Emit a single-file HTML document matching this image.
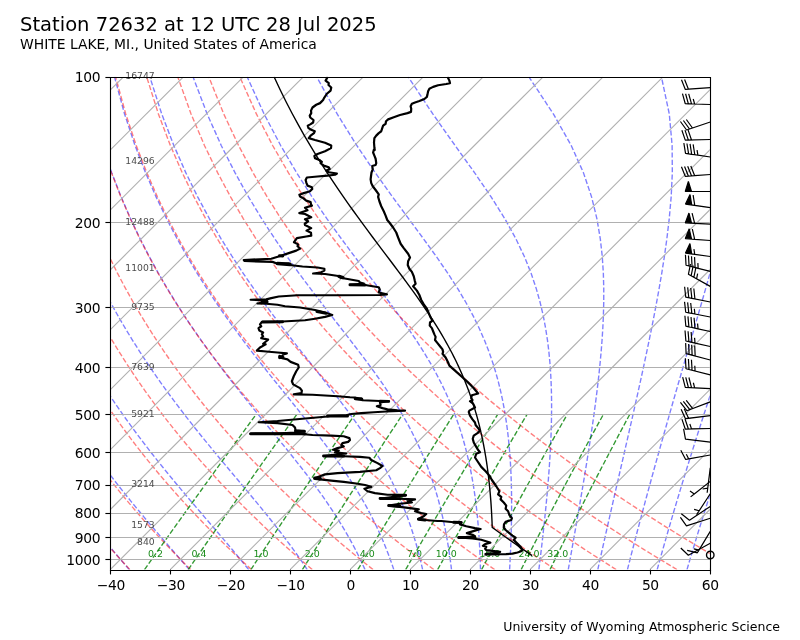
<!DOCTYPE html>
<html><head><meta charset="utf-8"><title>Station 72632 sounding</title>
<style>html,body{margin:0;padding:0;background:#fff}svg{will-change:transform}body{width:800px;height:640px;overflow:hidden}</style></head>
<body>
<svg width="800" height="640" viewBox="0 0 800 640" style="display:block;font-family:'DejaVu Sans','Liberation Sans',sans-serif">
<rect width="800" height="640" fill="#fff"/>
<defs><clipPath id="ax"><rect x="110.26" y="76.80" width="599.48" height="492.80"/></clipPath>
<clipPath id="bc"><rect x="649.79" y="76.80" width="119.90" height="492.80"/></clipPath></defs>
<g clip-path="url(#ax)" fill="none" stroke-width="1.389">
<g stroke="#0000ff" stroke-opacity="0.5" stroke-dasharray="5.14 2.22">
<path d="M129.34 569.60 L125.94 565.69 L122.50 561.71 L119.01 557.66 L115.48 553.52 L111.90 549.30 L108.28 544.99 L104.61 540.59 L100.90 536.10 L97.15 531.51 L93.35 526.82 L89.51 522.02 L85.62 517.10 L81.70 512.07 L77.73 506.92 L73.72 501.63 L69.66 496.21 L65.57 490.65 L61.43 484.93 L57.24 479.05 L53.02 473.00 L48.75 466.78 L44.45 460.36 L40.10 453.74 L35.71 446.90 L31.27 439.83 L26.80 432.52 L22.29 424.94 L17.73 417.08 L13.14 408.91 L8.51 400.41 L3.85 391.55 L-0.85 382.30 L-5.58 372.62 L-10.34 362.47 L-15.12 351.81 L-19.91 340.57 L-24.71 328.70 L-29.51 316.11 L-34.28 302.73 L-39.03 288.42 L-43.71 273.07 L-48.29 256.50 L-52.74 238.52 L-56.98 218.84 L-60.92 197.12 L-64.44 172.88 L-67.34 145.48 L-69.30 113.94 L-69.80 76.80"/>
<path d="M189.37 569.60 L185.96 565.69 L182.48 561.71 L178.93 557.66 L175.32 553.52 L171.64 549.30 L167.89 544.99 L164.08 540.59 L160.20 536.10 L156.26 531.51 L152.25 526.82 L148.17 522.02 L144.04 517.10 L139.84 512.07 L135.57 506.92 L131.25 501.63 L126.86 496.21 L122.41 490.65 L117.90 484.93 L113.33 479.05 L108.70 473.00 L104.01 466.78 L99.26 460.36 L94.45 453.74 L89.59 446.90 L84.66 439.83 L79.68 432.52 L74.64 424.94 L69.54 417.08 L64.39 408.91 L59.17 400.41 L53.91 391.55 L48.59 382.30 L43.21 372.62 L37.79 362.47 L32.32 351.81 L26.81 340.57 L21.26 328.70 L15.68 316.11 L10.08 302.73 L4.48 288.42 L-1.10 273.07 L-6.63 256.50 L-12.09 238.52 L-17.40 218.84 L-22.50 197.12 L-27.27 172.88 L-31.53 145.48 L-35.00 113.94 L-37.19 76.80"/>
<path d="M248.71 569.60 L245.55 565.69 L242.30 561.71 L238.96 557.66 L235.53 553.52 L232.00 549.30 L228.37 544.99 L224.65 540.59 L220.83 536.10 L216.91 531.51 L212.89 526.82 L208.78 522.02 L204.57 517.10 L200.26 512.07 L195.86 506.92 L191.36 501.63 L186.76 496.21 L182.07 490.65 L177.29 484.93 L172.42 479.05 L167.46 473.00 L162.41 466.78 L157.27 460.36 L152.04 453.74 L146.73 446.90 L141.33 439.83 L135.85 432.52 L130.29 424.94 L124.64 417.08 L118.91 408.91 L113.10 400.41 L107.21 391.55 L101.24 382.30 L95.19 372.62 L89.06 362.47 L82.86 351.81 L76.58 340.57 L70.24 328.70 L63.83 316.11 L57.36 302.73 L50.85 288.42 L44.31 273.07 L37.76 256.50 L31.23 238.52 L24.77 218.84 L18.44 197.12 L12.34 172.88 L6.63 145.48 L1.56 113.94 L-2.45 76.80"/>
<path d="M307.20 569.60 L304.62 565.69 L301.93 561.71 L299.14 557.66 L296.24 553.52 L293.22 549.30 L290.08 544.99 L286.82 540.59 L283.43 536.10 L279.92 531.51 L276.27 526.82 L272.48 522.02 L268.56 517.10 L264.49 512.07 L260.29 506.92 L255.93 501.63 L251.44 496.21 L246.80 490.65 L242.01 484.93 L237.08 479.05 L232.01 473.00 L226.79 466.78 L221.43 460.36 L215.93 453.74 L210.29 446.90 L204.52 439.83 L198.61 432.52 L192.57 424.94 L186.41 417.08 L180.12 408.91 L173.70 400.41 L167.17 391.55 L160.51 382.30 L153.73 372.62 L146.84 362.47 L139.84 351.81 L132.72 340.57 L125.49 328.70 L118.15 316.11 L110.71 302.73 L103.17 288.42 L95.55 273.07 L87.86 256.50 L80.12 238.52 L72.36 218.84 L64.64 197.12 L57.04 172.88 L49.69 145.48 L42.81 113.94 L36.77 76.80"/>
<path d="M365.01 569.60 L363.24 565.69 L361.39 561.71 L359.45 557.66 L357.40 553.52 L355.25 549.30 L352.99 544.99 L350.60 540.59 L348.10 536.10 L345.46 531.51 L342.68 526.82 L339.75 522.02 L336.67 517.10 L333.42 512.07 L330.00 506.92 L326.40 501.63 L322.61 496.21 L318.63 490.65 L314.44 484.93 L310.04 479.05 L305.43 473.00 L300.60 466.78 L295.54 460.36 L290.25 453.74 L284.74 446.90 L278.99 439.83 L273.01 432.52 L266.80 424.94 L260.36 417.08 L253.71 408.91 L246.83 400.41 L239.74 391.55 L232.45 382.30 L224.95 372.62 L217.26 362.47 L209.37 351.81 L201.30 340.57 L193.05 328.70 L184.62 316.11 L176.02 302.73 L167.25 288.42 L158.32 273.07 L149.24 256.50 L140.01 238.52 L130.67 218.84 L121.25 197.12 L111.82 172.88 L102.46 145.48 L93.35 113.94 L84.82 76.80"/>
<path d="M393.80 569.60 L392.48 565.69 L391.09 561.71 L389.62 557.66 L388.07 553.52 L386.43 549.30 L384.70 544.99 L382.86 540.59 L380.92 536.10 L378.85 531.51 L376.67 526.82 L374.34 522.02 L371.88 517.10 L369.26 512.07 L366.48 506.92 L363.52 501.63 L360.38 496.21 L357.04 490.65 L353.49 484.93 L349.72 479.05 L345.71 473.00 L341.46 466.78 L336.94 460.36 L332.16 453.74 L327.10 446.90 L321.74 439.83 L316.10 432.52 L310.15 424.94 L303.90 417.08 L297.34 408.91 L290.48 400.41 L283.33 391.55 L275.88 382.30 L268.15 372.62 L260.13 362.47 L251.85 351.81 L243.31 340.57 L234.52 328.70 L225.49 316.11 L216.22 302.73 L206.73 288.42 L197.01 273.07 L187.08 256.50 L176.96 238.52 L166.65 218.84 L156.18 197.12 L145.61 172.88 L135.01 145.48 L124.54 113.94 L114.46 76.80"/>
<path d="M422.61 569.60 L421.73 565.69 L420.79 561.71 L419.80 557.66 L418.75 553.52 L417.62 549.30 L416.43 544.99 L415.15 540.59 L413.79 536.10 L412.34 531.51 L410.79 526.82 L409.13 522.02 L407.35 517.10 L405.45 512.07 L403.41 506.92 L401.22 501.63 L398.87 496.21 L396.35 490.65 L393.63 484.93 L390.71 479.05 L387.57 473.00 L384.18 466.78 L380.54 460.36 L376.62 453.74 L372.40 446.90 L367.86 439.83 L362.98 432.52 L357.74 424.94 L352.12 417.08 L346.12 408.91 L339.71 400.41 L332.89 391.55 L325.66 382.30 L318.01 372.62 L309.95 362.47 L301.49 351.81 L292.63 340.57 L283.40 328.70 L273.81 316.11 L263.87 302.73 L253.60 288.42 L243.02 273.07 L232.13 256.50 L220.96 238.52 L209.51 218.84 L197.81 197.12 L185.89 172.88 L173.81 145.48 L161.71 113.94 L149.80 76.80"/>
<path d="M451.49 569.60 L451.02 565.69 L450.51 561.71 L449.97 557.66 L449.38 553.52 L448.74 549.30 L448.06 544.99 L447.33 540.59 L446.53 536.10 L445.67 531.51 L444.74 526.82 L443.74 522.02 L442.65 517.10 L441.47 512.07 L440.19 506.92 L438.80 501.63 L437.29 496.21 L435.65 490.65 L433.86 484.93 L431.91 479.05 L429.79 473.00 L427.47 466.78 L424.93 460.36 L422.15 453.74 L419.11 446.90 L415.78 439.83 L412.12 432.52 L408.12 424.94 L403.72 417.08 L398.90 408.91 L393.62 400.41 L387.85 391.55 L381.56 382.30 L374.70 372.62 L367.27 362.47 L359.24 351.81 L350.62 340.57 L341.39 328.70 L331.58 316.11 L321.20 302.73 L310.29 288.42 L298.86 273.07 L286.96 256.50 L274.61 238.52 L261.83 218.84 L248.65 197.12 L235.11 172.88 L221.24 145.48 L207.14 113.94 L192.99 76.80"/>
<path d="M480.48 569.60 L480.38 565.69 L480.25 561.71 L480.11 557.66 L479.94 553.52 L479.75 549.30 L479.53 544.99 L479.28 540.59 L478.99 536.10 L478.67 531.51 L478.30 526.82 L477.89 522.02 L477.43 517.10 L476.92 512.07 L476.34 506.92 L475.70 501.63 L474.98 496.21 L474.18 490.65 L473.29 484.93 L472.29 479.05 L471.17 473.00 L469.93 466.78 L468.53 460.36 L466.98 453.74 L465.23 446.90 L463.28 439.83 L461.09 432.52 L458.62 424.94 L455.85 417.08 L452.73 408.91 L449.21 400.41 L445.25 391.55 L440.77 382.30 L435.72 372.62 L430.03 362.47 L423.63 351.81 L416.44 340.57 L408.41 328.70 L399.48 316.11 L389.63 302.73 L378.85 288.42 L367.15 273.07 L354.58 256.50 L341.19 238.52 L327.04 218.84 L312.20 197.12 L296.72 172.88 L280.65 145.48 L264.08 113.94 L247.12 76.80"/>
<path d="M509.61 569.60 L509.82 565.69 L510.03 561.71 L510.23 557.66 L510.42 553.52 L510.61 549.30 L510.78 544.99 L510.95 540.59 L511.10 536.10 L511.23 531.51 L511.35 526.82 L511.45 522.02 L511.53 517.10 L511.58 512.07 L511.61 506.92 L511.60 501.63 L511.56 496.21 L511.48 490.65 L511.36 484.93 L511.18 479.05 L510.95 473.00 L510.65 466.78 L510.27 460.36 L509.80 453.74 L509.23 446.90 L508.55 439.83 L507.73 432.52 L506.76 424.94 L505.60 417.08 L504.23 408.91 L502.62 400.41 L500.72 391.55 L498.47 382.30 L495.81 372.62 L492.68 362.47 L488.98 351.81 L484.60 340.57 L479.41 328.70 L473.29 316.11 L466.07 302.73 L457.59 288.42 L447.70 273.07 L436.29 256.50 L423.30 238.52 L408.74 218.84 L392.71 197.12 L375.34 172.88 L356.78 145.48 L337.17 113.94 L316.68 76.80"/>
<path d="M538.88 569.60 L539.36 565.69 L539.84 561.71 L540.33 557.66 L540.82 553.52 L541.32 549.30 L541.82 544.99 L542.32 540.59 L542.83 536.10 L543.34 531.51 L543.85 526.82 L544.37 522.02 L544.88 517.10 L545.39 512.07 L545.91 506.92 L546.42 501.63 L546.92 496.21 L547.42 490.65 L547.91 484.93 L548.40 479.05 L548.86 473.00 L549.31 466.78 L549.74 460.36 L550.15 453.74 L550.52 446.90 L550.85 439.83 L551.14 432.52 L551.36 424.94 L551.52 417.08 L551.60 408.91 L551.57 400.41 L551.42 391.55 L551.11 382.30 L550.62 372.62 L549.90 362.47 L548.89 351.81 L547.52 340.57 L545.70 328.70 L543.32 316.11 L540.22 302.73 L536.21 288.42 L531.02 273.07 L524.34 256.50 L515.77 238.52 L504.89 218.84 L491.28 197.12 L474.68 172.88 L455.10 145.48 L432.79 113.94 L408.20 76.80"/>
<path d="M568.28 569.60 L568.98 565.69 L569.68 561.71 L570.40 557.66 L571.13 553.52 L571.88 549.30 L572.64 544.99 L573.42 540.59 L574.21 536.10 L575.01 531.51 L575.84 526.82 L576.68 522.02 L577.53 517.10 L578.40 512.07 L579.30 506.92 L580.20 501.63 L581.13 496.21 L582.07 490.65 L583.03 484.93 L584.02 479.05 L585.01 473.00 L586.03 466.78 L587.07 460.36 L588.12 453.74 L589.19 446.90 L590.27 439.83 L591.37 432.52 L592.48 424.94 L593.59 417.08 L594.72 408.91 L595.84 400.41 L596.95 391.55 L598.05 382.30 L599.13 372.62 L600.16 362.47 L601.13 351.81 L602.02 340.57 L602.78 328.70 L603.38 316.11 L603.73 302.73 L603.76 288.42 L603.34 273.07 L602.26 256.50 L600.26 238.52 L596.93 218.84 L591.64 197.12 L583.50 172.88 L571.23 145.48 L553.36 113.94 L528.85 76.80"/>
<path d="M597.81 569.60 L598.67 565.69 L599.55 561.71 L600.45 557.66 L601.37 553.52 L602.31 549.30 L603.27 544.99 L604.26 540.59 L605.27 536.10 L606.30 531.51 L607.36 526.82 L608.45 522.02 L609.57 517.10 L610.71 512.07 L611.88 506.92 L613.09 501.63 L614.33 496.21 L615.60 490.65 L616.91 484.93 L618.26 479.05 L619.65 473.00 L621.08 466.78 L622.55 460.36 L624.07 453.74 L625.63 446.90 L627.25 439.83 L628.92 432.52 L630.64 424.94 L632.43 417.08 L634.27 408.91 L636.17 400.41 L638.15 391.55 L640.19 382.30 L642.31 372.62 L644.49 362.47 L646.76 351.81 L649.10 340.57 L651.51 328.70 L654.00 316.11 L656.55 302.73 L659.15 288.42 L661.77 273.07 L664.38 256.50 L666.90 238.52 L669.22 218.84 L671.15 197.12 L672.33 172.88 L672.12 145.48 L669.29 113.94 L661.40 76.80"/>
<path d="M627.45 569.60 L628.44 565.69 L629.45 561.71 L630.48 557.66 L631.54 553.52 L632.63 549.30 L633.74 544.99 L634.89 540.59 L636.06 536.10 L637.26 531.51 L638.50 526.82 L639.77 522.02 L641.08 517.10 L642.42 512.07 L643.80 506.92 L645.22 501.63 L646.69 496.21 L648.20 490.65 L649.76 484.93 L651.37 479.05 L653.04 473.00 L654.76 466.78 L656.54 460.36 L658.39 453.74 L660.30 446.90 L662.28 439.83 L664.35 432.52 L666.49 424.94 L668.72 417.08 L671.05 408.91 L673.48 400.41 L676.02 391.55 L678.68 382.30 L681.46 372.62 L684.39 362.47 L687.47 351.81 L690.72 340.57 L694.14 328.70 L697.77 316.11 L701.62 302.73 L705.72 288.42 L710.08 273.07 L714.75 256.50 L719.75 238.52 L725.11 218.84 L730.87 197.12 L737.04 172.88 L743.59 145.48 L750.42 113.94 L757.11 76.80"/>
<path d="M657.17 569.60 L658.26 565.69 L659.36 561.71 L660.50 557.66 L661.66 553.52 L662.86 549.30 L664.08 544.99 L665.34 540.59 L666.63 536.10 L667.95 531.51 L669.31 526.82 L670.71 522.02 L672.16 517.10 L673.64 512.07 L675.17 506.92 L676.75 501.63 L678.37 496.21 L680.05 490.65 L681.79 484.93 L683.58 479.05 L685.44 473.00 L687.36 466.78 L689.35 460.36 L691.42 453.74 L693.57 446.90 L695.80 439.83 L698.13 432.52 L700.56 424.94 L703.09 417.08 L705.74 408.91 L708.51 400.41 L711.42 391.55 L714.47 382.30 L717.69 372.62 L721.08 362.47 L724.67 351.81 L728.48 340.57 L732.52 328.70 L736.84 316.11 L741.46 302.73 L746.43 288.42 L751.79 273.07 L757.60 256.50 L763.95 238.52 L770.91 218.84 L778.62 197.12 L787.24 172.88 L796.96 145.48 L808.08 113.94 L820.98 76.80"/>
<path d="M686.98 569.60 L688.12 565.69 L689.30 561.71 L690.50 557.66 L691.74 553.52 L693.00 549.30 L694.30 544.99 L695.63 540.59 L697.00 536.10 L698.41 531.51 L699.86 526.82 L701.35 522.02 L702.88 517.10 L704.46 512.07 L706.09 506.92 L707.77 501.63 L709.51 496.21 L711.30 490.65 L713.15 484.93 L715.07 479.05 L717.05 473.00 L719.11 466.78 L721.24 460.36 L723.45 453.74 L725.76 446.90 L728.16 439.83 L730.65 432.52 L733.26 424.94 L735.99 417.08 L738.84 408.91 L741.83 400.41 L744.97 391.55 L748.28 382.30 L751.76 372.62 L755.45 362.47 L759.35 351.81 L763.50 340.57 L767.92 328.70 L772.65 316.11 L777.73 302.73 L783.20 288.42 L789.14 273.07 L795.60 256.50 L802.69 238.52 L810.54 218.84 L819.28 197.12 L829.15 172.88 L840.44 145.48 L853.57 113.94 L869.21 76.80"/>
<path d="M716.84 569.60 L718.03 565.69 L719.25 561.71 L720.49 557.66 L721.77 553.52 L723.08 549.30 L724.43 544.99 L725.81 540.59 L727.23 536.10 L728.69 531.51 L730.19 526.82 L731.74 522.02 L733.33 517.10 L734.97 512.07 L736.66 506.92 L738.41 501.63 L740.21 496.21 L742.07 490.65 L743.99 484.93 L745.98 479.05 L748.04 473.00 L750.18 466.78 L752.40 460.36 L754.71 453.74 L757.11 446.90 L759.60 439.83 L762.21 432.52 L764.92 424.94 L767.77 417.08 L770.74 408.91 L773.86 400.41 L777.15 391.55 L780.60 382.30 L784.25 372.62 L788.10 362.47 L792.19 351.81 L796.54 340.57 L801.18 328.70 L806.15 316.11 L811.49 302.73 L817.26 288.42 L823.52 273.07 L830.35 256.50 L837.85 238.52 L846.17 218.84 L855.48 197.12 L866.01 172.88 L878.10 145.48 L892.23 113.94 L909.18 76.80"/>
</g>
<g stroke="#ff0000" stroke-opacity="0.5" stroke-dasharray="5.14 2.22">
<path d="M129.88 569.60 L126.26 565.69 L122.61 561.71 L118.93 557.66 L115.23 553.52 L111.49 549.30 L107.73 544.99 L103.94 540.59 L100.11 536.10 L96.25 531.51 L92.36 526.82 L88.44 522.02 L84.49 517.10 L80.50 512.07 L76.48 506.92 L72.42 501.63 L68.33 496.21 L64.20 490.65 L60.04 484.93 L55.84 479.05 L51.60 473.00 L47.33 466.78 L43.01 460.36 L38.66 453.74 L34.27 446.90 L29.84 439.83 L25.37 432.52 L20.87 424.94 L16.32 417.08 L11.74 408.91 L7.13 400.41 L2.48 391.55 L-2.21 382.30 L-6.92 372.62 L-11.66 362.47 L-16.42 351.81 L-21.19 340.57 L-25.97 328.70 L-30.75 316.11 L-35.50 302.73 L-40.22 288.42 L-44.88 273.07 L-49.44 256.50 L-53.85 238.52 L-58.06 218.84 L-61.98 197.12 L-65.46 172.88 L-68.32 145.48 L-70.24 113.94 L-70.70 76.80"/>
<path d="M190.67 569.60 L186.73 565.69 L182.75 561.71 L178.74 557.66 L174.70 553.52 L170.62 549.30 L166.51 544.99 L162.37 540.59 L158.19 536.10 L153.97 531.51 L149.71 526.82 L145.42 522.02 L141.08 517.10 L136.71 512.07 L132.29 506.92 L127.83 501.63 L123.33 496.21 L118.79 490.65 L114.20 484.93 L109.57 479.05 L104.89 473.00 L100.17 466.78 L95.39 460.36 L90.57 453.74 L85.70 446.90 L80.77 439.83 L75.80 432.52 L70.78 424.94 L65.70 417.08 L60.57 408.91 L55.39 400.41 L50.16 391.55 L44.88 382.30 L39.55 372.62 L34.18 362.47 L28.76 351.81 L23.30 340.57 L17.80 328.70 L12.28 316.11 L6.75 302.73 L1.21 288.42 L-4.30 273.07 L-9.77 256.50 L-15.14 238.52 L-20.38 218.84 L-25.39 197.12 L-30.07 172.88 L-34.22 145.48 L-37.58 113.94 L-39.65 76.80"/>
<path d="M251.46 569.60 L247.19 565.69 L242.89 561.71 L238.55 557.66 L234.17 553.52 L229.75 549.30 L225.30 544.99 L220.80 540.59 L216.26 536.10 L211.68 531.51 L207.06 526.82 L202.39 522.02 L197.67 517.10 L192.91 512.07 L188.10 506.92 L183.24 501.63 L178.34 496.21 L173.38 490.65 L168.37 484.93 L163.30 479.05 L158.18 473.00 L153.00 466.78 L147.77 460.36 L142.48 453.74 L137.12 446.90 L131.71 439.83 L126.23 432.52 L120.69 424.94 L115.08 417.08 L109.40 408.91 L103.66 400.41 L97.85 391.55 L91.97 382.30 L86.03 372.62 L80.01 362.47 L73.93 351.81 L67.78 340.57 L61.57 328.70 L55.31 316.11 L49.00 302.73 L42.65 288.42 L36.27 273.07 L29.90 256.50 L23.56 238.52 L17.30 218.84 L11.19 197.12 L5.33 172.88 L-0.13 145.48 L-4.91 113.94 L-8.60 76.80"/>
<path d="M312.25 569.60 L307.66 565.69 L303.03 561.71 L298.36 557.66 L293.64 553.52 L288.88 549.30 L284.08 544.99 L279.23 540.59 L274.34 536.10 L269.39 531.51 L264.40 526.82 L259.36 522.02 L254.26 517.10 L249.11 512.07 L243.91 506.92 L238.65 501.63 L233.34 496.21 L227.96 490.65 L222.53 484.93 L217.03 479.05 L211.47 473.00 L205.84 466.78 L200.15 460.36 L194.38 453.74 L188.55 446.90 L182.64 439.83 L176.66 432.52 L170.60 424.94 L164.46 417.08 L158.23 408.91 L151.93 400.41 L145.54 391.55 L139.06 382.30 L132.50 372.62 L125.85 362.47 L119.10 351.81 L112.27 340.57 L105.35 328.70 L98.34 316.11 L91.25 302.73 L84.08 288.42 L76.85 273.07 L69.57 256.50 L62.27 238.52 L54.99 218.84 L47.78 197.12 L40.72 172.88 L33.97 145.48 L27.75 113.94 L22.45 76.80"/>
<path d="M373.04 569.60 L368.13 565.69 L363.17 561.71 L358.16 557.66 L353.11 553.52 L348.01 549.30 L342.87 544.99 L337.67 540.59 L332.41 536.10 L327.11 531.51 L321.75 526.82 L316.33 522.02 L310.85 517.10 L305.32 512.07 L299.72 506.92 L294.06 501.63 L288.34 496.21 L282.55 490.65 L276.69 484.93 L270.76 479.05 L264.76 473.00 L258.68 466.78 L252.53 460.36 L246.29 453.74 L239.97 446.90 L233.57 439.83 L227.08 432.52 L220.51 424.94 L213.83 417.08 L207.07 408.91 L200.20 400.41 L193.23 391.55 L186.16 382.30 L178.97 372.62 L171.68 362.47 L164.28 351.81 L156.76 340.57 L149.12 328.70 L141.37 316.11 L133.50 302.73 L125.51 288.42 L117.43 273.07 L109.24 256.50 L100.98 238.52 L92.67 218.84 L84.36 197.12 L76.12 172.88 L68.07 145.48 L60.41 113.94 L53.50 76.80"/>
<path d="M433.83 569.60 L428.59 565.69 L423.31 561.71 L417.97 557.66 L412.59 553.52 L407.14 549.30 L401.65 544.99 L396.10 540.59 L390.49 536.10 L384.82 531.51 L379.09 526.82 L373.30 522.02 L367.45 517.10 L361.52 512.07 L355.53 506.92 L349.47 501.63 L343.34 496.21 L337.14 490.65 L330.85 484.93 L324.49 479.05 L318.05 473.00 L311.52 466.78 L304.90 460.36 L298.20 453.74 L291.40 446.90 L284.51 439.83 L277.51 432.52 L270.41 424.94 L263.21 417.08 L255.90 408.91 L248.47 400.41 L240.92 391.55 L233.25 382.30 L225.45 372.62 L217.52 362.47 L209.45 351.81 L201.24 340.57 L192.89 328.70 L184.39 316.11 L175.75 302.73 L166.95 288.42 L158.00 273.07 L148.91 256.50 L139.69 238.52 L130.36 218.84 L120.94 197.12 L111.51 172.88 L102.17 145.48 L93.07 113.94 L84.55 76.80"/>
<path d="M494.62 569.60 L489.06 565.69 L483.45 561.71 L477.78 557.66 L472.06 553.52 L466.27 549.30 L460.43 544.99 L454.53 540.59 L448.57 536.10 L442.53 531.51 L436.44 526.82 L430.27 522.02 L424.04 517.10 L417.73 512.07 L411.34 506.92 L404.88 501.63 L398.34 496.21 L391.72 490.65 L385.02 484.93 L378.22 479.05 L371.34 473.00 L364.36 466.78 L357.28 460.36 L350.11 453.74 L342.83 446.90 L335.44 439.83 L327.94 432.52 L320.32 424.94 L312.59 417.08 L304.73 408.91 L296.73 400.41 L288.61 391.55 L280.34 382.30 L271.92 372.62 L263.35 362.47 L254.62 351.81 L245.73 340.57 L236.66 328.70 L227.42 316.11 L218.00 302.73 L208.38 288.42 L198.58 273.07 L188.58 256.50 L178.40 238.52 L168.04 218.84 L157.53 197.12 L146.91 172.88 L136.26 145.48 L125.74 113.94 L115.60 76.80"/>
<path d="M555.41 569.60 L549.53 565.69 L543.59 561.71 L537.59 557.66 L531.53 553.52 L525.41 549.30 L519.22 544.99 L512.96 540.59 L506.64 536.10 L500.25 531.51 L493.78 526.82 L487.24 522.02 L480.63 517.10 L473.93 512.07 L467.16 506.92 L460.29 501.63 L453.35 496.21 L446.31 490.65 L439.18 484.93 L431.95 479.05 L424.63 473.00 L417.20 466.78 L409.66 460.36 L402.01 453.74 L394.25 446.90 L386.37 439.83 L378.37 432.52 L370.23 424.94 L361.96 417.08 L353.56 408.91 L345.00 400.41 L336.29 391.55 L327.43 382.30 L318.39 372.62 L309.19 362.47 L299.80 351.81 L290.22 340.57 L280.44 328.70 L270.45 316.11 L260.25 302.73 L249.82 288.42 L239.15 273.07 L228.25 256.50 L217.11 238.52 L205.72 218.84 L194.11 197.12 L182.31 172.88 L170.36 145.48 L158.40 113.94 L146.65 76.80"/>
<path d="M616.20 569.60 L609.99 565.69 L603.73 561.71 L597.40 557.66 L591.00 553.52 L584.54 549.30 L578.00 544.99 L571.40 540.59 L564.72 536.10 L557.96 531.51 L551.13 526.82 L544.21 522.02 L537.22 517.10 L530.14 512.07 L522.97 506.92 L515.70 501.63 L508.35 496.21 L500.89 490.65 L493.34 484.93 L485.68 479.05 L477.91 473.00 L470.03 466.78 L462.04 460.36 L453.92 453.74 L445.68 446.90 L437.31 439.83 L428.80 432.52 L420.14 424.94 L411.34 417.08 L402.39 408.91 L393.27 400.41 L383.98 391.55 L374.52 382.30 L364.87 372.62 L355.02 362.47 L344.97 351.81 L334.70 340.57 L324.21 328.70 L313.48 316.11 L302.49 302.73 L291.25 288.42 L279.73 273.07 L267.92 256.50 L255.82 238.52 L243.41 218.84 L230.70 197.12 L217.70 172.88 L204.46 145.48 L191.06 113.94 L177.70 76.80"/>
<path d="M676.99 569.60 L670.46 565.69 L663.87 561.71 L657.20 557.66 L650.47 553.52 L643.67 549.30 L636.79 544.99 L629.83 540.59 L622.79 536.10 L615.68 531.51 L608.47 526.82 L601.19 522.02 L593.81 517.10 L586.34 512.07 L578.78 506.92 L571.11 501.63 L563.35 496.21 L555.48 490.65 L547.50 484.93 L539.41 479.05 L531.20 473.00 L522.87 466.78 L514.42 460.36 L505.83 453.74 L497.11 446.90 L488.24 439.83 L479.22 432.52 L470.05 424.94 L460.72 417.08 L451.22 408.91 L441.54 400.41 L431.67 391.55 L421.61 382.30 L411.34 372.62 L400.86 362.47 L390.14 351.81 L379.19 340.57 L367.98 328.70 L356.51 316.11 L344.74 302.73 L332.68 288.42 L320.30 273.07 L307.59 256.50 L294.52 238.52 L281.09 218.84 L267.28 197.12 L253.10 172.88 L238.56 145.48 L223.72 113.94 L208.75 76.80"/>
<path d="M737.78 569.60 L730.93 565.69 L724.01 561.71 L717.01 557.66 L709.94 553.52 L702.80 549.30 L695.57 544.99 L688.26 540.59 L680.87 536.10 L673.39 531.51 L665.82 526.82 L658.16 522.02 L650.40 517.10 L642.54 512.07 L634.59 506.92 L626.52 501.63 L618.35 496.21 L610.07 490.65 L601.66 484.93 L593.14 479.05 L584.49 473.00 L575.71 466.78 L566.80 460.36 L557.74 453.74 L548.53 446.90 L539.17 439.83 L529.65 432.52 L519.96 424.94 L510.10 417.08 L500.05 408.91 L489.80 400.41 L479.36 391.55 L468.70 382.30 L457.81 372.62 L446.69 362.47 L435.32 351.81 L423.68 340.57 L411.75 328.70 L399.53 316.11 L386.99 302.73 L374.12 288.42 L360.88 273.07 L347.26 256.50 L333.23 238.52 L318.78 218.84 L303.87 197.12 L288.49 172.88 L272.65 145.48 L256.39 113.94 L239.80 76.80"/>
</g>
<g stroke="#008000" stroke-opacity="0.8" stroke-dasharray="5.14 2.22">
<path d="M144.48 569.60 L147.19 565.78 L149.95 561.89 L152.77 557.92 L155.64 553.88 L158.57 549.76 L161.56 545.56 L164.62 541.27 L167.74 536.89 L170.93 532.42 L174.20 527.85 L177.54 523.18 L180.96 518.40 L184.46 513.51 L188.05 508.50 L191.73 503.37 L195.50 498.12 L199.38 492.72 L203.36 487.19 L207.46 481.50 L211.67 475.66 L216.01 469.65 L220.48 463.46 L225.09 457.08 L229.86 450.50 L234.78 443.71 L239.87 436.69 L245.15 429.43 L250.62 421.91 L256.30 414.11"/>
<path d="M188.20 569.60 L190.83 565.78 L193.51 561.89 L196.25 557.92 L199.04 553.88 L201.89 549.76 L204.79 545.56 L207.76 541.27 L210.80 536.89 L213.90 532.42 L217.07 527.85 L220.32 523.18 L223.64 518.40 L227.05 513.51 L230.53 508.50 L234.11 503.37 L237.79 498.12 L241.56 492.72 L245.43 487.19 L249.41 481.50 L253.52 475.66 L257.74 469.65 L262.09 463.46 L266.58 457.08 L271.22 450.50 L276.01 443.71 L280.97 436.69 L286.11 429.43 L291.45 421.91 L296.99 414.11"/>
<path d="M250.86 569.60 L253.38 565.78 L255.94 561.89 L258.55 557.92 L261.22 553.88 L263.94 549.76 L266.72 545.56 L269.56 541.27 L272.46 536.89 L275.43 532.42 L278.47 527.85 L281.57 523.18 L284.76 518.40 L288.02 513.51 L291.36 508.50 L294.78 503.37 L298.30 498.12 L301.92 492.72 L305.63 487.19 L309.45 481.50 L313.38 475.66 L317.43 469.65 L321.61 463.46 L325.92 457.08 L330.37 450.50 L334.97 443.71 L339.73 436.69 L344.67 429.43 L349.80 421.91 L355.12 414.11"/>
<path d="M302.37 569.60 L304.78 565.78 L307.25 561.89 L309.75 557.92 L312.32 553.88 L314.93 549.76 L317.60 545.56 L320.33 541.27 L323.12 536.89 L325.97 532.42 L328.89 527.85 L331.88 523.18 L334.94 518.40 L338.07 513.51 L341.29 508.50 L344.59 503.37 L347.97 498.12 L351.45 492.72 L355.03 487.19 L358.71 481.50 L362.49 475.66 L366.40 469.65 L370.42 463.46 L374.58 457.08 L378.87 450.50 L383.31 443.71 L387.90 436.69 L392.67 429.43 L397.61 421.91 L402.75 414.11"/>
<path d="M357.80 569.60 L360.10 565.78 L362.45 561.89 L364.84 557.92 L367.28 553.88 L369.78 549.76 L372.33 545.56 L374.93 541.27 L377.59 536.89 L380.32 532.42 L383.11 527.85 L385.96 523.18 L388.88 518.40 L391.88 513.51 L394.96 508.50 L398.11 503.37 L401.35 498.12 L404.68 492.72 L408.10 487.19 L411.62 481.50 L415.25 475.66 L418.99 469.65 L422.84 463.46 L426.82 457.08 L430.94 450.50 L435.20 443.71 L439.61 436.69 L444.18 429.43 L448.92 421.91 L453.86 414.11"/>
<path d="M405.63 569.60 L407.83 565.78 L410.08 561.89 L412.37 557.92 L414.70 553.88 L417.09 549.76 L419.53 545.56 L422.02 541.27 L424.58 536.89 L427.18 532.42 L429.86 527.85 L432.59 523.18 L435.39 518.40 L438.27 513.51 L441.22 508.50 L444.24 503.37 L447.35 498.12 L450.54 492.72 L453.83 487.19 L457.21 481.50 L460.70 475.66 L464.29 469.65 L467.99 463.46 L471.82 457.08 L475.78 450.50 L479.87 443.71 L484.11 436.69 L488.52 429.43 L493.09 421.91 L497.84 414.11"/>
<path d="M437.62 569.60 L439.75 565.78 L441.93 561.89 L444.15 557.92 L446.41 553.88 L448.72 549.76 L451.09 545.56 L453.51 541.27 L455.98 536.89 L458.51 532.42 L461.10 527.85 L463.76 523.18 L466.48 518.40 L469.26 513.51 L472.13 508.50 L475.06 503.37 L478.08 498.12 L481.19 492.72 L484.38 487.19 L487.66 481.50 L491.05 475.66 L494.54 469.65 L498.14 463.46 L501.86 457.08 L505.71 450.50 L509.70 443.71 L513.83 436.69 L518.11 429.43 L522.56 421.91 L527.19 414.11"/>
<path d="M481.59 569.60 L483.62 565.78 L485.69 561.89 L487.81 557.92 L489.98 553.88 L492.19 549.76 L494.45 545.56 L496.76 541.27 L499.12 536.89 L501.54 532.42 L504.02 527.85 L506.56 523.18 L509.16 518.40 L511.83 513.51 L514.57 508.50 L517.38 503.37 L520.28 498.12 L523.25 492.72 L526.31 487.19 L529.46 481.50 L532.71 475.66 L536.06 469.65 L539.52 463.46 L543.09 457.08 L546.79 450.50 L550.62 443.71 L554.58 436.69 L558.70 429.43 L562.98 421.91 L567.43 414.11"/>
<path d="M521.13 569.60 L523.07 565.78 L525.05 561.89 L527.08 557.92 L529.15 553.88 L531.26 549.76 L533.42 545.56 L535.64 541.27 L537.90 536.89 L540.22 532.42 L542.59 527.85 L545.03 523.18 L547.52 518.40 L550.08 513.51 L552.71 508.50 L555.41 503.37 L558.18 498.12 L561.04 492.72 L563.98 487.19 L567.00 481.50 L570.12 475.66 L573.34 469.65 L576.67 463.46 L580.11 457.08 L583.66 450.50 L587.35 443.71 L591.17 436.69 L595.13 429.43 L599.26 421.91 L603.55 414.11"/>
<path d="M550.02 569.60 L551.90 565.78 L553.81 561.89 L555.77 557.92 L557.77 553.88 L559.81 549.76 L561.90 545.56 L564.04 541.27 L566.23 536.89 L568.47 532.42 L570.77 527.85 L573.12 523.18 L575.54 518.40 L578.01 513.51 L580.56 508.50 L583.17 503.37 L585.86 498.12 L588.63 492.72 L591.48 487.19 L594.41 481.50 L597.44 475.66 L600.56 469.65 L603.79 463.46 L607.12 457.08 L610.57 450.50 L614.15 443.71 L617.86 436.69 L621.71 429.43 L625.72 421.91 L629.89 414.11"/>
</g>
</g>
<g stroke="#b0b0b0" stroke-width="1.111" fill="none">
<path d="M110.26 77.50 H709.74"/>
<path d="M110.26 222.50 H709.74"/>
<path d="M110.26 307.50 H709.74"/>
<path d="M110.26 367.50 H709.74"/>
<path d="M110.26 414.50 H709.74"/>
<path d="M110.26 452.50 H709.74"/>
<path d="M110.26 485.50 H709.74"/>
<path d="M110.26 513.50 H709.74"/>
<path d="M110.26 537.50 H709.74"/>
<path d="M110.26 559.50 H709.74"/>
</g>
<g clip-path="url(#ax)" stroke="#b0b0b0" stroke-width="1.111" fill="none">
<path d="M-429.27 569.60 L63.53 76.80"/>
<path d="M-369.32 569.60 L123.48 76.80"/>
<path d="M-309.38 569.60 L183.42 76.80"/>
<path d="M-249.43 569.60 L243.37 76.80"/>
<path d="M-189.48 569.60 L303.32 76.80"/>
<path d="M-129.53 569.60 L363.27 76.80"/>
<path d="M-69.58 569.60 L423.22 76.80"/>
<path d="M-9.64 569.60 L483.16 76.80"/>
<path d="M50.31 569.60 L543.11 76.80"/>
<path d="M110.26 569.60 L603.06 76.80"/>
<path d="M170.21 569.60 L663.01 76.80"/>
<path d="M230.16 569.60 L722.96 76.80"/>
<path d="M290.10 569.60 L782.90 76.80"/>
<path d="M350.05 569.60 L842.85 76.80"/>
<path d="M410.00 569.60 L902.80 76.80"/>
<path d="M469.95 569.60 L962.75 76.80"/>
<path d="M529.90 569.60 L1022.70 76.80"/>
<path d="M589.84 569.60 L1082.64 76.80"/>
<path d="M649.79 569.60 L1142.59 76.80"/>
<path d="M709.74 569.60 L1202.54 76.80"/>
</g>
<g fill="#008000" fill-opacity="0.9" font-size="9.45px" text-anchor="middle">
<text x="155.51" y="556.67">0.2</text>
<text x="198.91" y="556.67">0.4</text>
<text x="261.10" y="556.67">1.0</text>
<text x="312.20" y="556.67">2.0</text>
<text x="367.17" y="556.67">4.0</text>
<text x="414.60" y="556.67">7.0</text>
<text x="446.31" y="556.67">10.0</text>
<text x="489.88" y="556.67">16.0</text>
<text x="529.05" y="556.67">24.0</text>
<text x="557.68" y="556.67">32.0</text>
</g>
<g fill="#4d4d4d" font-size="9.25px" text-anchor="end">
<text x="154.7" y="79.25">16747</text>
<text x="154.7" y="164.23">14296</text>
<text x="154.7" y="224.52">12488</text>
<text x="154.7" y="271.29">11001</text>
<text x="154.7" y="309.50">9735</text>
<text x="154.7" y="369.79">7639</text>
<text x="154.7" y="416.56">5921</text>
<text x="154.7" y="487.07">3214</text>
<text x="154.7" y="527.76">1573</text>
<text x="154.7" y="545.49">840</text>
</g>
<g clip-path="url(#ax)" fill="none" stroke="#000" stroke-linejoin="round" stroke-linecap="butt">
<path stroke-width="2.200" d="M447.50 76.75 L449.38 80.62 L450.00 83.12 L446.25 84.00 L438.12 85.25 L433.12 86.88 L429.38 88.75 L428.12 91.25 L427.50 94.38 L426.88 96.88 L424.38 99.00 L419.38 101.00 L415.00 102.50 L411.88 103.75 L410.62 106.25 L411.25 108.75 L411.00 111.88 L407.50 113.12 L400.00 115.00 L393.75 117.25 L388.12 119.38 L386.00 121.25 L385.62 123.75 L383.12 125.62 L382.25 128.12 L381.25 131.25 L378.75 133.12 L376.25 135.62 L374.38 138.12 L374.00 142.50 L374.38 147.50 L374.75 150.00 L374.00 149.38 L373.12 152.50 L374.38 155.62 L375.62 158.75 L376.25 163.12 L375.62 165.00 L372.25 166.00 L372.75 169.38 L371.50 172.50 L371.00 176.25 L370.62 179.38 L371.25 183.12 L372.75 186.25 L375.62 190.00 L378.75 194.38 L378.12 196.88 L379.38 201.25 L381.25 206.25 L383.75 211.25 L385.62 215.62 L387.25 220.00 L389.38 222.50 L393.12 227.50 L396.25 232.50 L398.12 237.50 L400.62 243.75 L403.75 248.12 L408.12 253.75 L410.00 257.50 L408.12 261.25 L407.75 265.00 L409.38 268.75 L411.88 271.88 L413.75 276.25 L414.75 280.62 L415.62 283.75 L413.12 286.25 L416.88 290.62 L419.38 295.00 L421.25 300.00 L423.75 304.38 L426.88 308.75 L428.75 313.12 L430.62 317.50 L432.50 320.62 L430.00 322.50 L429.75 325.62 L431.88 328.12 L433.12 331.25 L434.38 334.38 L435.62 336.88 L435.00 340.00 L437.50 343.12 L440.00 346.25 L442.50 349.38 L443.12 351.88 L442.50 353.75 L445.62 357.50 L448.12 362.50 L449.38 365.62 L455.00 370.62 L461.25 376.25 L467.50 381.88 L473.12 387.50 L478.12 393.50 L471.88 395.25 L471.25 398.12 L472.50 400.00 L470.00 401.25 L473.12 403.75 L475.00 407.50 L469.38 410.62 L468.75 411.88 L470.00 415.62 L472.50 419.38 L475.00 422.50 L475.62 425.00 L478.12 428.12 L480.00 430.62 L477.50 433.12 L473.75 435.62 L472.75 438.75 L473.75 442.50 L476.25 446.88 L478.12 450.00 L480.00 452.25 L476.25 453.75 L475.00 457.50 L477.50 461.25 L481.25 466.88 L485.62 471.25 L489.38 475.62 L491.88 480.00 L496.25 486.25 L499.38 491.25 L498.12 494.38 L501.25 496.88 L500.62 499.38 L503.75 502.50 L506.25 505.62 L505.62 508.75 L508.12 511.25 L509.38 515.00 L511.88 518.12 L511.25 520.00 L505.62 521.88 L504.00 524.38 L503.75 527.50 L505.62 530.00 L509.38 533.12 L512.50 535.62 L515.62 537.75 L513.75 540.00 L516.88 543.12 L520.62 546.88 L522.50 550.00 L514.50 540.50 L521.50 548.50 L522.10 549.60 L521.25 551.25 L517.50 552.50 L512.50 553.60 L506.00 554.10 L500.00 554.25 L497.50 554.30 L484.75 554.45"/>
<path stroke-width="2.200" d="M327.75 76.75 L325.62 80.62 L328.75 83.12 L328.50 85.00 L331.25 87.50 L330.62 90.62 L326.88 93.75 L324.00 98.12 L323.12 100.00 L321.25 101.88 L320.00 103.12 L316.25 104.75 L312.50 107.50 L311.00 110.62 L311.25 113.12 L309.75 115.62 L310.25 117.50 L313.50 120.00 L313.12 122.50 L310.25 124.38 L307.75 125.62 L308.50 128.12 L311.25 129.75 L314.75 131.25 L314.00 133.12 L310.62 135.62 L308.75 138.12 L315.00 140.00 L325.00 142.75 L331.25 145.62 L331.00 148.12 L325.00 151.25 L317.50 154.00 L314.38 156.00 L315.00 158.12 L319.38 160.00 L321.88 161.88 L320.62 163.12 L323.75 165.62 L328.75 167.25 L329.75 169.00 L326.25 170.62 L328.75 172.25 L336.88 173.50 L335.00 174.75 L327.50 175.62 L317.50 176.50 L306.88 177.50 L305.62 180.00 L306.50 183.12 L307.50 185.62 L311.88 187.25 L312.25 189.00 L310.00 191.25 L303.75 193.12 L299.38 194.75 L300.00 196.50 L303.12 198.12 L306.25 200.62 L310.62 202.12 L311.00 204.38 L311.88 205.62 L305.00 207.75 L307.50 210.25 L299.38 213.12 L305.00 214.00 L311.25 217.25 L305.00 219.38 L308.12 221.25 L304.75 223.75 L305.00 225.00 L311.25 228.12 L306.50 230.62 L311.00 232.75 L311.25 235.62 L306.25 236.50 L296.88 238.12 L294.00 242.25 L298.12 244.38 L297.50 246.25 L300.25 248.50 L296.25 250.62 L288.75 253.12 L279.38 256.25 L271.25 258.75 L243.75 260.00 L244.38 261.00 L272.50 261.88 L277.50 263.75 L288.75 263.50 L289.38 265.00 L302.50 266.50 L317.50 267.50 L324.38 268.75 L324.38 270.62 L320.62 272.50 L313.12 273.50 L325.00 274.00 L340.00 276.25 L340.62 277.75 L358.75 281.00 L360.00 282.50 L363.75 283.50 L350.00 284.75 L365.00 285.00 L378.75 287.25 L379.75 289.38 L378.75 292.50 L386.88 294.38 L380.00 295.00 L337.50 295.25 L297.50 295.25 L278.75 296.50 L271.25 298.12 L266.25 299.38 L250.62 299.75 L266.25 300.25 L266.88 301.88 L257.50 303.50 L266.25 303.75 L277.50 304.75 L285.00 306.25 L300.00 307.50 L315.00 310.00 L325.00 312.50 L332.25 315.00 L325.00 316.88 L315.00 318.75 L305.00 320.25 L282.50 321.50 L261.88 321.88 L260.00 324.38 L261.25 326.25 L258.50 328.12 L259.38 330.62 L263.12 332.50 L261.88 334.38 L263.12 336.25 L261.25 338.12 L268.12 339.62 L266.25 341.25 L263.12 343.75 L265.62 344.38 L260.00 347.50 L256.88 350.62 L266.25 351.50 L277.50 352.50 L286.88 353.38 L283.12 354.38 L281.88 356.88 L279.38 358.12 L279.38 357.50 L287.50 359.38 L290.62 361.88 L298.12 364.75 L298.75 367.50 L296.25 371.25 L293.75 376.25 L291.88 381.25 L293.12 384.38 L300.00 388.12 L301.88 390.62 L301.50 393.12 L293.75 394.38 L312.50 394.75 L337.50 396.25 L350.00 397.25 L355.00 397.50 L356.88 399.00 L361.25 398.50 L362.50 400.25 L380.00 401.00 L388.75 401.25 L380.00 402.50 L380.62 405.00 L376.88 406.25 L382.50 408.12 L387.50 409.38 L397.50 410.25 L405.00 410.62 L386.25 411.50 L373.75 412.25 L361.25 413.12 L351.25 414.00 L346.25 415.25 L330.00 416.00 L327.50 416.50 L302.50 418.75 L277.50 421.00 L258.75 422.25 L277.50 423.12 L292.50 425.00 L295.00 427.50 L295.62 430.62 L304.38 431.25 L295.00 432.50 L277.50 433.50 L250.62 433.75 L277.50 433.75 L298.75 433.75 L312.50 435.00 L331.25 435.62 L343.75 436.25 L349.38 438.12 L350.00 440.00 L348.12 441.88 L342.50 443.12 L341.25 445.00 L343.75 446.50 L337.50 448.12 L333.12 449.75 L338.75 450.62 L335.00 452.25 L346.25 453.50 L331.25 455.00 L323.75 456.00 L343.75 456.25 L360.00 456.88 L369.38 457.75 L371.25 460.00 L377.50 463.12 L382.50 466.00 L380.00 468.12 L376.25 470.25 L360.00 471.88 L337.50 473.12 L325.00 474.38 L320.00 476.25 L315.00 478.12 L320.00 479.38 L331.25 480.62 L343.75 481.88 L356.25 483.50 L365.00 485.00 L371.25 486.88 L364.38 488.75 L367.50 491.25 L375.00 493.12 L387.50 494.75 L393.75 494.75 L405.62 495.25 L393.75 496.88 L381.25 498.50 L400.00 498.75 L415.00 499.38 L407.50 501.00 L411.88 502.50 L400.00 503.75 L388.75 505.62 L400.00 506.88 L410.00 508.12 L418.75 509.38 L415.00 511.25 L421.25 513.12 L426.25 514.00 L423.75 516.25 L418.12 519.00 L425.00 520.00 L437.50 521.00 L441.25 521.00 L453.75 522.25 L461.25 522.50 L460.00 524.38 L466.25 526.25 L475.00 528.12 L480.62 529.00 L475.00 530.62 L466.88 533.12 L472.50 534.75 L475.00 536.25 L458.75 537.50 L472.50 538.50 L481.25 539.75 L490.00 542.50 L490.38 542.75 L484.75 544.25 L482.88 545.75 L486.25 546.88 L485.13 548.75 L486.25 550.10 L500.13 551.90 L497.50 552.95 L484.75 554.15"/>
<path stroke-width="1.389" stroke-linejoin="miter" d="M532.08 555.57 L527.79 552.62 L523.46 549.63 L519.10 546.59 L514.71 543.51 L510.28 540.39 L505.82 537.22 L501.33 533.99 L496.80 530.72 L492.23 527.40 L492.23 527.40 L492.18 525.84 L492.12 524.26 L492.06 522.68 L491.99 521.08 L491.92 519.47 L491.84 517.85 L491.76 516.21 L491.68 514.57 L491.59 512.91 L491.49 511.23 L491.40 509.54 L491.29 507.84 L491.18 506.13 L491.07 504.40 L490.95 502.65 L490.82 500.90 L490.68 499.12 L490.54 497.33 L490.40 495.53 L490.24 493.71 L490.08 491.88 L489.91 490.02 L489.74 488.16 L489.55 486.27 L489.36 484.37 L489.16 482.45 L488.95 480.51 L488.73 478.56 L488.49 476.58 L488.25 474.59 L488.00 472.58 L487.74 470.55 L487.46 468.50 L487.18 466.43 L486.88 464.33 L486.57 462.22 L486.24 460.09 L485.90 457.93 L485.54 455.75 L485.17 453.55 L484.79 451.32 L484.38 449.08 L483.96 446.80 L483.52 444.50 L483.06 442.18 L482.58 439.83 L482.08 437.45 L481.56 435.05 L481.01 432.62 L480.44 430.16 L479.85 427.67 L479.23 425.15 L478.58 422.60 L477.90 420.02 L477.20 417.40 L476.46 414.76 L475.68 412.08 L474.88 409.36 L474.04 406.61 L473.15 403.82 L472.23 401.00 L471.27 398.14 L470.26 395.23 L469.21 392.29 L468.11 389.30 L466.96 386.27 L465.76 383.20 L464.50 380.08 L463.18 376.91 L461.80 373.70 L460.36 370.43 L458.85 367.12 L457.27 363.75 L455.62 360.32 L453.89 356.84 L452.09 353.30 L450.20 349.70 L448.22 346.03 L446.16 342.30 L444.00 338.50 L441.74 334.64 L439.38 330.70 L436.92 326.68 L434.36 322.59 L431.68 318.41 L428.89 314.15 L425.98 309.80 L422.96 305.36 L419.82 300.82 L416.55 296.18 L413.16 291.44 L409.65 286.59 L406.01 281.62 L402.25 276.53 L398.36 271.31 L394.35 265.97 L390.22 260.48 L385.97 254.84 L381.60 249.05 L377.12 243.09 L372.52 236.96 L367.82 230.65 L363.00 224.14 L358.09 217.42 L353.07 210.47 L347.96 203.29 L342.75 195.86 L337.45 188.15 L332.07 180.15 L326.60 171.82 L321.04 163.16 L315.41 154.12 L309.70 144.67 L303.92 134.78 L298.07 124.40 L292.15 113.47 L286.18 101.95 L280.14 89.75 L274.06 76.80"/>
<path stroke-width="3.00" stroke-linecap="round" d="M279.50 255.80 L282.80 256.00"/>
<path stroke-width="3.60" stroke-linecap="round" d="M277.50 263.50 L290.00 264.40"/>
<path stroke-width="4.20" stroke-linecap="round" d="M262.50 301.90 L266.50 301.90"/>
<path stroke-width="3.00" stroke-linecap="round" d="M262.50 321.90 L282.50 321.70"/>
<path stroke-width="3.20" stroke-linecap="round" d="M339.00 276.40 L343.00 277.60"/>
<path stroke-width="3.00" stroke-linecap="round" d="M350.00 284.70 L365.00 285.00"/>
<path stroke-width="3.00" stroke-linecap="round" d="M317.00 311.50 L326.00 313.20"/>
<path stroke-width="3.40" stroke-linecap="round" d="M279.80 356.60 L282.80 357.40"/>
<path stroke-width="3.00" stroke-linecap="round" d="M327.50 416.00 L347.50 416.00"/>
<path stroke-width="3.00" stroke-linecap="round" d="M295.50 431.00 L304.40 431.20"/>
<path stroke-width="3.00" stroke-linecap="round" d="M250.60 433.70 L305.00 433.70"/>
<path stroke-width="3.60" stroke-linecap="round" d="M355.50 398.50 L361.50 399.20"/>
<path stroke-width="2.80" stroke-linecap="round" d="M380.00 401.20 L388.75 401.40"/>
<path stroke-width="2.80" stroke-linecap="round" d="M323.50 456.00 L343.75 456.20"/>
<path stroke-width="3.60" stroke-linecap="round" d="M314.80 478.20 L320.00 478.60"/>
<path stroke-width="2.80" stroke-linecap="round" d="M380.00 498.50 L400.00 498.70"/>
<path stroke-width="3.00" stroke-linecap="round" d="M393.75 495.20 L405.60 495.30"/>
<path stroke-width="3.00" stroke-linecap="round" d="M388.75 505.60 L400.00 506.30"/>
<path stroke-width="3.00" stroke-linecap="round" d="M418.50 519.20 L425.00 520.00"/>
<path stroke-width="3.00" stroke-linecap="round" d="M453.75 522.20 L461.25 522.50"/>
<path stroke-width="3.00" stroke-linecap="round" d="M458.75 537.40 L475.00 537.60"/>
</g>
<g clip-path="url(#bc)" stroke="#000" stroke-width="1.200" fill="#000" stroke-linejoin="bevel">
<path d="M710.26 87.60 L685.33 89.44 L681.48 79.70 L685.33 89.44 L688.44 89.21 L684.59 79.47 L688.44 89.21Z"/>
<path d="M710.26 104.50 L685.27 103.73 L682.46 93.64 L685.27 103.73 L688.40 103.83 L685.58 93.73 L688.40 103.83 L691.52 103.92 L688.70 93.83 L691.52 103.92 L694.64 104.02 L693.23 98.97 L694.64 104.02Z"/>
<path d="M710.26 122.00 L686.57 129.98 L680.41 121.50 L686.57 129.98 L689.53 128.98 L683.38 120.50 L689.53 128.98 L692.49 127.98 L686.34 119.50 L692.49 127.98Z"/>
<path d="M710.26 139.50 L685.27 140.18 L681.87 130.27 L685.27 140.18 L688.39 140.09 L685.00 130.18 L688.39 140.09 L691.52 140.01 L688.12 130.10 L691.52 140.01Z"/>
<path d="M710.26 157.00 L685.52 153.42 L683.86 143.08 L685.52 153.42 L688.61 153.87 L686.95 143.52 L688.61 153.87 L691.70 154.31 L690.04 143.97 L691.70 154.31 L694.80 154.76 L693.14 144.42 L694.80 154.76 L697.89 155.21 L697.06 150.04 L697.89 155.21Z"/>
<path d="M710.26 174.50 L685.34 176.44 L681.45 166.71 L685.34 176.44 L688.45 176.19 L684.56 166.47 L688.45 176.19 L691.57 175.95 L687.68 166.22 L691.57 175.95 L694.68 175.71 L690.79 165.98 L694.68 175.71Z"/>
<path d="M710.26 191.50 L685.26 191.50 L688.38 181.50 L691.51 191.50Z"/>
<path d="M710.26 207.60 L685.51 204.07 L690.01 194.61 L691.70 204.95 L694.79 205.40 L693.11 195.05 L694.79 205.40Z"/>
<path d="M710.26 224.20 L685.30 222.84 L688.96 213.03 L691.54 223.18 L694.66 223.35 L692.08 213.20 L694.66 223.35Z"/>
<path d="M710.26 240.50 L685.34 238.56 L689.22 228.84 L691.57 239.05 L694.68 239.29 L692.34 229.08 L694.68 239.29Z"/>
<path d="M710.26 256.50 L685.49 253.10 L689.95 243.61 L691.68 253.95 L694.78 254.37 L693.91 249.21 L694.78 254.37Z"/>
<path d="M710.26 271.40 L686.03 265.26 L685.45 254.80 L686.03 265.26 L689.06 266.03 L688.48 255.57 L689.06 266.03 L692.08 266.79 L691.51 256.33 L692.08 266.79 L695.11 267.56 L694.54 257.10 L695.11 267.56 L698.14 268.33 L697.86 263.10 L698.14 268.33Z"/>
<path d="M710.26 286.40 L688.38 274.30 L690.49 264.04 L688.38 274.30 L691.12 275.81 L693.22 265.55 L691.12 275.81 L693.85 277.33 L695.96 267.06 L693.85 277.33 L696.59 278.84 L697.64 273.71 L696.59 278.84Z"/>
<path d="M710.26 302.00 L685.74 297.15 L684.61 286.73 L685.74 297.15 L688.80 297.75 L687.68 287.34 L688.80 297.75 L691.87 298.36 L690.74 287.94 L691.87 298.36 L694.93 298.97 L693.81 288.55 L694.93 298.97Z"/>
<path d="M710.26 317.00 L685.72 312.24 L684.56 301.82 L685.72 312.24 L688.79 312.83 L687.62 302.42 L688.79 312.83 L691.85 313.43 L690.69 303.02 L691.85 313.43 L694.92 314.02 L694.34 308.82 L694.92 314.02Z"/>
<path d="M710.26 331.50 L685.83 326.18 L684.91 315.75 L685.83 326.18 L688.89 326.85 L687.96 316.41 L688.89 326.85 L691.94 327.51 L691.01 317.08 L691.94 327.51 L694.99 328.18 L694.07 317.74 L694.99 328.18 L698.05 328.84 L697.58 323.62 L698.05 328.84Z"/>
<path d="M710.26 346.50 L685.87 341.01 L685.02 330.57 L685.87 341.01 L688.92 341.70 L688.07 331.25 L688.92 341.70 L691.97 342.38 L691.12 331.94 L691.97 342.38 L695.02 343.07 L694.59 337.85 L695.02 343.07Z"/>
<path d="M710.26 360.00 L686.10 353.59 L685.64 343.12 L686.10 353.59 L689.12 354.39 L688.66 343.92 L689.12 354.39 L692.14 355.19 L691.68 344.72 L692.14 355.19 L695.16 355.99 L694.70 345.52 L695.16 355.99Z"/>
<path d="M710.26 374.80 L686.00 368.75 L685.39 358.29 L686.00 368.75 L689.04 369.51 L688.42 359.05 L689.04 369.51 L692.07 370.26 L691.46 359.80 L692.07 370.26 L695.10 371.02 L694.79 365.79 L695.10 371.02Z"/>
<path d="M710.26 388.60 L685.29 387.34 L682.67 377.20 L685.29 387.34 L688.41 387.50 L685.79 377.36 L688.41 387.50 L691.53 387.66 L688.91 377.51 L691.53 387.66 L694.65 387.82 L693.35 382.74 L694.65 387.82Z"/>
<path d="M710.26 401.90 L686.88 410.74 L680.42 402.49 L686.88 410.74 L689.80 409.64 L683.34 401.39 L689.80 409.64 L692.72 408.53 L686.26 400.28 L692.72 408.53Z"/>
<path d="M710.26 415.70 L685.44 418.72 L681.13 409.17 L685.44 418.72 L688.55 418.34 L684.23 408.79 L688.55 418.34Z"/>
<path d="M710.26 428.50 L685.27 429.06 L681.92 419.13 L685.27 429.06 L688.39 428.99 L685.04 419.06 L688.39 428.99 L691.51 428.92 L689.84 423.95 L691.51 428.92Z"/>
<path d="M710.26 442.20 L685.46 439.08 L683.60 428.77 L685.46 439.08Z"/>
<path d="M710.26 455.00 L685.66 459.47 L680.80 450.19 L685.66 459.47 L688.74 458.91 L686.31 454.27 L688.74 458.91Z"/>
<path d="M710.26 467.90 L707.16 492.71 L707.74 488.06 L702.59 488.99 L707.74 488.06Z"/>
<path d="M710.26 481.40 L690.62 496.87 L694.30 493.97 L689.98 491.01 L694.30 493.97Z"/>
<path d="M710.26 493.75 L696.62 514.70 L699.18 510.77 L694.14 509.36 L699.18 510.77Z"/>
<path d="M710.26 506.40 L689.47 520.29 L681.32 513.71 L689.47 520.29Z"/>
<path d="M710.26 518.25 L686.46 525.89 L680.42 517.32 L686.46 525.89Z"/>
<path d="M710.26 531.40 L697.35 552.81 L687.18 550.32 L697.35 552.81 L698.97 550.13 L693.88 548.89 L698.97 550.13Z"/>
<path d="M710.26 543.20 L688.34 555.22 L680.79 547.95 L688.34 555.22Z"/>
<circle cx="710.26" cy="555.00" r="3.75" fill="none" stroke-width="1.39"/>
</g>
<g stroke="#000" stroke-width="1.111" fill="none" stroke-linecap="square">
<path d="M110.5 77.5 H710.5 V570.5 H110.5 Z"/>
</g>
<g stroke="#000" stroke-width="1.111" fill="none">
<path d="M110.26 77.50 h-4.86"/>
<path d="M110.26 222.50 h-4.86"/>
<path d="M110.26 307.50 h-4.86"/>
<path d="M110.26 367.50 h-4.86"/>
<path d="M110.26 414.50 h-4.86"/>
<path d="M110.26 452.50 h-4.86"/>
<path d="M110.26 485.50 h-4.86"/>
<path d="M110.26 513.50 h-4.86"/>
<path d="M110.26 537.50 h-4.86"/>
<path d="M110.26 559.50 h-4.86"/>
<path d="M110.50 569.60 v4.86"/>
<path d="M170.50 569.60 v4.86"/>
<path d="M230.50 569.60 v4.86"/>
<path d="M290.50 569.60 v4.86"/>
<path d="M350.50 569.60 v4.86"/>
<path d="M410.50 569.60 v4.86"/>
<path d="M470.50 569.60 v4.86"/>
<path d="M530.50 569.60 v4.86"/>
<path d="M590.50 569.60 v4.86"/>
<path d="M650.50 569.60 v4.86"/>
<path d="M710.50 569.60 v4.86"/>
</g>
<g fill="#000" font-size="13.89px" letter-spacing="-0.35">
<text x="100.14" y="81.80" text-anchor="end">100</text>
<text x="100.14" y="227.80" text-anchor="end">200</text>
<text x="100.14" y="312.80" text-anchor="end">300</text>
<text x="100.14" y="372.80" text-anchor="end">400</text>
<text x="100.14" y="419.80" text-anchor="end">500</text>
<text x="100.14" y="457.80" text-anchor="end">600</text>
<text x="100.14" y="489.80" text-anchor="end">700</text>
<text x="100.14" y="517.80" text-anchor="end">800</text>
<text x="100.14" y="542.80" text-anchor="end">900</text>
<text x="100.14" y="564.80" text-anchor="end">1000</text>
<text x="110.86" y="589.72" text-anchor="middle">−40</text>
<text x="170.81" y="589.72" text-anchor="middle">−30</text>
<text x="230.76" y="589.72" text-anchor="middle">−20</text>
<text x="290.70" y="589.72" text-anchor="middle">−10</text>
<text x="350.65" y="589.72" text-anchor="middle">0</text>
<text x="410.60" y="589.72" text-anchor="middle">10</text>
<text x="470.55" y="589.72" text-anchor="middle">20</text>
<text x="530.50" y="589.72" text-anchor="middle">30</text>
<text x="590.44" y="589.72" text-anchor="middle">40</text>
<text x="650.39" y="589.72" text-anchor="middle">50</text>
<text x="710.34" y="589.72" text-anchor="middle">60</text>
</g>
<text x="20" y="31" font-size="19.56px" fill="#000">Station 72632 at 12 UTC 28 Jul 2025</text>
<text x="20" y="49" font-size="13.89px" fill="#000">WHITE LAKE, MI., United States of America</text>
<text x="780" y="631" font-size="12.5px" fill="#000" text-anchor="end">University of Wyoming Atmospheric Science</text>
</svg>
</body></html>
